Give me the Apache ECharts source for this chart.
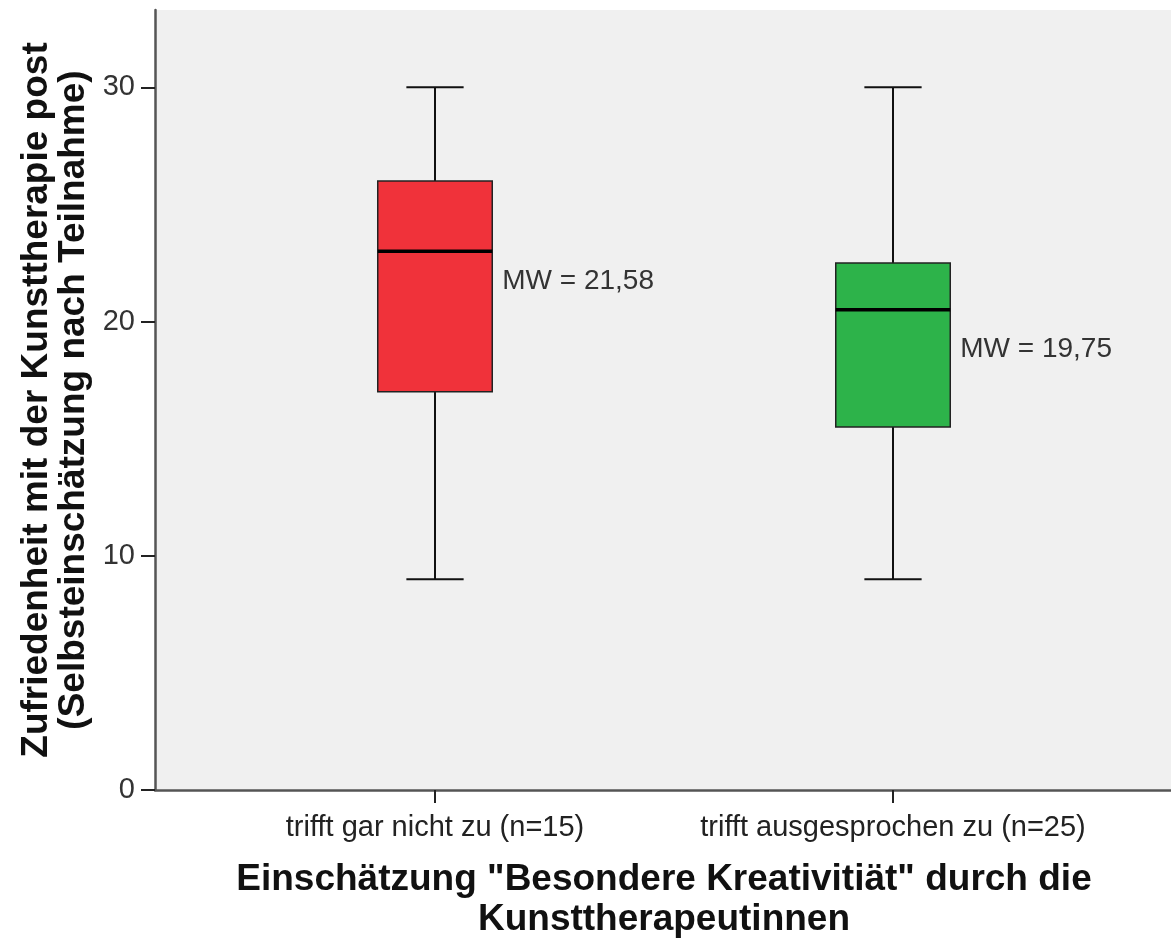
<!DOCTYPE html>
<html>
<head>
<meta charset="utf-8">
<script src="https://cdn.jsdelivr.net/npm/echarts@6/dist/echarts.min.js"></script>
<style>
  html, body { margin: 0; padding: 0; background: #fff; }
  #chart { width: 1171px; height: 940px; }
</style>
</head>
<body>
<div id="chart"></div>
<script>
// Gruppen auf der x-Achse
const categories = ['trifft gar nicht zu (n=15)', 'trifft ausgesprochen zu (n=25)'];
// min, Q1, Median, Q3, max
const boxStats = [
  [9, 17, 23, 26, 30],
  [9, 15.5, 20.5, 22.5, 30]
];
const means = [21.58, 19.75];
// Höhe, auf der die MW-Beschriftung steht
const meanLabelY = [21.7, 18.8];
const boxColors = ['#f0323a', '#2db34a'];
const yTicks = [0, 10, 20, 30];

const chart = echarts.init(document.getElementById('chart'));

const FONT = 'Liberation Sans, Arial, sans-serif';
const yMax = 33.3;

const customData = boxStats.map((s, i) => [i].concat(s, [meanLabelY[i], means[i]]));

const option = {
  animation: false,
  backgroundColor: '#ffffff',
  textStyle: { fontFamily: FONT },
  grid: [
    { left: 155, right: 0, top: 10, bottom: 150, show: true, backgroundColor: '#f0f0f0', borderWidth: 0, containLabel: false, outerBoundsMode: 'none' },
    { left: 206, right: 49, top: 10, bottom: 150, containLabel: false, outerBoundsMode: 'none' }
  ],
  xAxis: [
    {
      gridIndex: 0, type: 'value', min: 0, max: 1,
      axisLine: { show: true, lineStyle: { color: '#555', width: 2.5 } },
      axisTick: { show: false }, axisLabel: { show: false }, splitLine: { show: false }
    },
    {
      gridIndex: 1, type: 'category', data: categories,
      axisLine: { show: false },
      axisTick: { show: true, interval: 0, alignWithLabel: true, length: 13, lineStyle: { color: '#222', width: 2 } },
      axisLabel: { interval: 0, margin: 23, fontSize: 29, color: '#222', fontFamily: FONT, hideOverlap: false },
      name: 'Einschätzung "Besondere Kreativitiät" durch die\nKunsttherapeutinnen',
      nameLocation: 'middle',
      nameGap: 70,
      nameTextStyle: { fontSize: 37, fontWeight: 'bold', color: '#111', lineHeight: 40, fontFamily: FONT }
    }
  ],
  yAxis: [
    {
      gridIndex: 0, type: 'value', min: 0, max: yMax, interval: 10,
      axisLine: { show: true, lineStyle: { color: '#555', width: 2.5 } },
      axisTick: { show: true, length: 14, customValues: yTicks, lineStyle: { color: '#222', width: 2 } },
      axisLabel: {
        margin: 20, fontSize: 29, color: '#333', fontFamily: FONT,
        customValues: yTicks
      },
      splitLine: { show: false },
      name: 'Zufriedenheit mit der Kunsttherapie post\n(Selbsteinschätzung nach Teilnahme)',
      nameLocation: 'middle',
      nameGap: 63,
      nameTextStyle: { fontSize: 37, fontWeight: 'bold', color: '#111', lineHeight: 37, fontFamily: FONT }
    },
    {
      gridIndex: 1, type: 'value', min: 0, max: yMax, show: false
    }
  ],
  series: [
    {
      type: 'custom',
      xAxisIndex: 1,
      yAxisIndex: 1,
      data: customData,
      encode: { x: 0, y: [1, 2, 3, 4, 5] },
      renderItem: function (params, api) {
        const i = api.value(0);
        const band = api.size([1, 0])[0];
        const half = band * 0.125;
        const cap = half / 2;
        const pMin = api.coord([i, api.value(1)]);
        const pQ1 = api.coord([i, api.value(2)]);
        const pMed = api.coord([i, api.value(3)]);
        const pQ3 = api.coord([i, api.value(4)]);
        const pMax = api.coord([i, api.value(5)]);
        const pLab = api.coord([i, api.value(6)]);
        const x = pMin[0];
        const lineStyle = { stroke: '#111', lineWidth: 2 };
        return {
          type: 'group',
          children: [
            { type: 'line', shape: { x1: x, y1: pMin[1], x2: x, y2: pQ1[1] }, style: lineStyle },
            { type: 'line', shape: { x1: x, y1: pQ3[1], x2: x, y2: pMax[1] }, style: lineStyle },
            { type: 'line', shape: { x1: x - cap, y1: pMin[1], x2: x + cap, y2: pMin[1] }, style: lineStyle },
            { type: 'line', shape: { x1: x - cap, y1: pMax[1], x2: x + cap, y2: pMax[1] }, style: lineStyle },
            {
              type: 'rect',
              shape: { x: x - half, y: pQ3[1], width: half * 2, height: pQ1[1] - pQ3[1] },
              style: { fill: boxColors[params.dataIndex], stroke: '#222', lineWidth: 1.5 }
            },
            { type: 'line', shape: { x1: x - half, y1: pMed[1], x2: x + half, y2: pMed[1] }, style: { stroke: '#000', lineWidth: 3.5 } },
            {
              type: 'text',
              style: {
                x: x + half + 10, y: pLab[1],
                text: 'MW = ' + api.value(7).toFixed(2).replace('.', ','),
                fill: '#333', fontSize: 28, fontFamily: FONT,
                verticalAlign: 'middle', align: 'left'
              }
            }
          ]
        };
      }
    }
  ]
};

chart.setOption(option);
</script>
</body>
</html>
